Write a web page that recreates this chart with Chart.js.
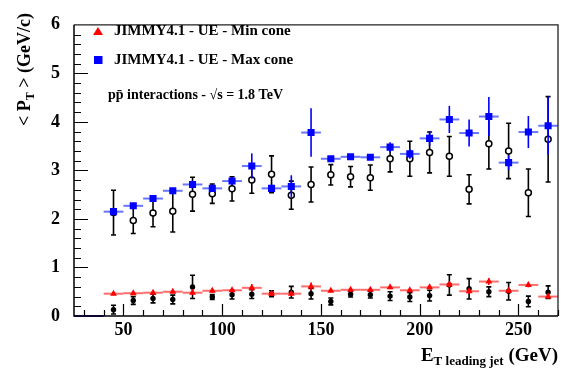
<!DOCTYPE html>
<html>
<head>
<meta charset="utf-8">
<script src="https://cdn.jsdelivr.net/npm/chart.js@4"></script>
<style>
    html, body { margin: 0; padding: 0; background: #fff; }
</style>
</head>
<body>
<canvas id="ptChart" width="566" height="376"></canvas>
<script>
const bins = [45, 55, 65, 75, 85, 95, 105, 115, 125, 135, 145, 155, 165, 175, 185, 195, 205, 215, 225, 235, 245, 255, 265];
const binHalfWidth = 5;

// JIMMY4.1 model, max cone (blue squares)
const maxConeModel = [2.15, 2.27, 2.42, 2.58, 2.71, 2.63, 2.78, 3.09, 2.63, 2.67, 3.78, 3.24, 3.28, 3.27, 3.48, 3.34, 3.66, 4.05, 3.77, 4.11, 3.16, 3.79, 3.92];
const maxConeModelErr = [0.05, 0.05, 0.05, 0.05, 0.08, 0.06, 0.08, 0.26, 0.08, 0.23, 0.5, 0.05, 0.04, 0.04, 0.1, 0.1, 0.15, 0.28, 0.28, 0.4, 0.15, 0.33, 0.6];
// data, max cone (open circles)
const maxConeData = [2.13, 1.97, 2.12, 2.16, 2.51, 2.52, 2.62, 2.80, 2.92, 2.49, 2.71, 2.91, 2.87, 2.85, 3.24, 3.24, 3.37, 3.29, 2.61, 3.55, 3.40, 2.54, 3.64];
const maxConeDataErr = [0.46, 0.27, 0.28, 0.43, 0.35, 0.2, 0.25, 0.27, 0.38, 0.29, 0.36, 0.21, 0.21, 0.26, 0.27, 0.36, 0.42, 0.41, 0.3, 0.52, 0.57, 0.49, 0.88];

// JIMMY4.1 model, min cone (red triangles)
const minConeModel = [0.46, 0.47, 0.48, 0.50, 0.48, 0.52, 0.53, 0.58, 0.46, 0.46, 0.61, 0.52, 0.54, 0.54, 0.59, 0.53, 0.59, 0.65, 0.51, 0.71, 0.52, 0.64, 0.40];
const minConeModelErr = [0.03, 0.03, 0.03, 0.03, 0.04, 0.04, 0.04, 0.08, 0.04, 0.04, 0.08, 0.03, 0.04, 0.04, 0.04, 0.04, 0.04, 0.06, 0.05, 0.07, 0.05, 0.05, 0.04];
// data, min cone (filled circles)
const minConeData = [0.13, 0.32, 0.36, 0.34, 0.60, 0.39, 0.44, 0.45, 0.46, 0.49, 0.46, 0.30, 0.45, 0.44, 0.41, 0.39, 0.42, 0.64, 0.56, 0.50, 0.51, 0.30, 0.49];
const minConeDataErr = [0.09, 0.08, 0.09, 0.09, 0.24, 0.05, 0.09, 0.09, 0.06, 0.12, 0.11, 0.07, 0.06, 0.07, 0.09, 0.09, 0.11, 0.21, 0.21, 0.1, 0.18, 0.11, 0.13];

// empty histogram bins below the first jet bin
const emptyX = [25, 40];
const emptyY = [0, 0];

const xTickValues = [50, 100, 150, 200, 250];
const yTickValues = [0, 1, 2, 3, 4, 5, 6];
const legendLabels = ['JIMMY4.1 - UE - Min cone', 'JIMMY4.1 - UE - Max cone'];
const noteText = 'pp\u0304 interactions - \u221As = 1.8 TeV';

const serif = '"Liberation Serif", "Times New Roman", serif';

function points(ys) {
    return bins.map((x, i) => ({x: x, y: ys[i]}));
}

// error bars drawn just before each dataset's markers
const errorBars = {
    id: 'errorBars',
    beforeDatasetDraw(chart, args) {
        const ds = chart.data.datasets[args.index];
        if (!ds.yErr) return;
        const xs = chart.scales.x, ys = chart.scales.y, ctx = chart.ctx;
        ctx.save();
        ds.data.forEach((p, i) => {
            const px = xs.getPixelForValue(p.x);
            const py = ys.getPixelForValue(p.y);
            if (ds.xErr) {
                ctx.strokeStyle = ds.xErrColor;
                ctx.lineWidth = 2;
                ctx.beginPath();
                ctx.moveTo(xs.getPixelForValue(p.x - ds.xErr), py);
                ctx.lineTo(xs.getPixelForValue(p.x + ds.xErr), py);
                ctx.stroke();
            }
            const top = ys.getPixelForValue(p.y + ds.yErr[i]);
            const bot = ys.getPixelForValue(p.y - ds.yErr[i]);
            ctx.strokeStyle = ds.yErrColor;
            ctx.lineWidth = 1.6;
            ctx.beginPath();
            ctx.moveTo(px, top);
            ctx.lineTo(px, bot);
            if (ds.cap) {
                ctx.moveTo(px - ds.cap, top);
                ctx.lineTo(px + ds.cap, top);
                ctx.moveTo(px - ds.cap, bot);
                ctx.lineTo(px + ds.cap, bot);
            }
            ctx.stroke();
        });
        ctx.restore();
    }
};

// ROOT-like frame, ticks, titles, legend
const frame = {
    id: 'frame',
    afterDraw(chart) {
        const {ctx, chartArea: a, scales: {x, y}} = chart;
        ctx.save();
        ctx.strokeStyle = '#222';
        ctx.lineWidth = 1.3;
        ctx.beginPath();
        ctx.moveTo(a.left, a.top);
        ctx.lineTo(a.right, a.top);
        ctx.lineTo(a.right, a.bottom);
        ctx.stroke();

        ctx.strokeStyle = '#000';
        ctx.lineWidth = 1.5;
        ctx.beginPath();
        ctx.moveTo(a.left, a.top);
        ctx.lineTo(a.left, a.bottom);
        ctx.lineTo(a.right, a.bottom);
        ctx.stroke();

        ctx.lineWidth = 1.2;
        ctx.beginPath();
        for (let v = 30; v <= 270; v += 10) {
            const px = Math.round(x.getPixelForValue(v)) + 0.5;
            const len = v % 50 === 0 ? 12 : 6;
            ctx.moveTo(px, a.bottom);
            ctx.lineTo(px, a.bottom - len);
        }
        for (let k = 1; k < 30; k++) {
            const py = Math.round(y.getPixelForValue(k * 0.2)) + 0.5;
            const len = k % 5 === 0 ? 14 : 7;
            ctx.moveTo(a.left, py);
            ctx.lineTo(a.left + len, py);
        }
        ctx.stroke();

        ctx.fillStyle = '#000';
        ctx.textBaseline = 'alphabetic';
        ctx.textAlign = 'left';

        // y title, rotated
        ctx.save();
        ctx.translate(30, 126);
        ctx.rotate(-Math.PI / 2);
        ctx.font = 'bold 18px ' + serif;
        let cx = 0;
        ctx.fillText('< P', cx, 0);
        cx += ctx.measureText('< P').width;
        ctx.font = 'bold 12px ' + serif;
        ctx.fillText('T', cx, 4);
        cx += ctx.measureText('T').width;
        ctx.font = 'bold 18px ' + serif;
        ctx.fillText(' > (GeV/c)', cx, 0);
        ctx.restore();

        // x title, right aligned
        ctx.font = 'bold 19px ' + serif;
        const wE = ctx.measureText('E').width;
        const wU = ctx.measureText(' (GeV)').width;
        ctx.font = 'bold 13px ' + serif;
        const wS = ctx.measureText('T leading jet').width;
        let tx = a.right - (wE + wS + wU);
        ctx.font = 'bold 19px ' + serif;
        ctx.fillText('E', tx, 361);
        tx += wE;
        ctx.font = 'bold 13px ' + serif;
        ctx.fillText('T leading jet', tx, 365);
        tx += wS;
        ctx.font = 'bold 19px ' + serif;
        ctx.fillText(' (GeV)', tx, 361);

        // legend
        ctx.fillStyle = '#ff0000';
        ctx.beginPath();
        ctx.moveTo(98, 27);
        ctx.lineTo(103, 35);
        ctx.lineTo(93, 35);
        ctx.closePath();
        ctx.fill();
        ctx.fillStyle = '#0000ff';
        ctx.fillRect(94, 56, 8.5, 8);

        ctx.fillStyle = '#000';
        ctx.font = 'bold 15px ' + serif;
        ctx.fillText(legendLabels[0], 114, 35);
        ctx.fillText(legendLabels[1], 114, 64);
        ctx.font = 'bold 14px ' + serif;
        ctx.fillText(noteText, 108, 99);
        ctx.restore();
    }
};

const tickFont = {family: serif, weight: 'bold', size: 18};

new Chart(document.getElementById('ptChart'), {
    type: 'scatter',
    data: {
        datasets: [
            {
                label: legendLabels[0],
                data: points(minConeModel),
                yErr: minConeModelErr,
                xErr: binHalfWidth,
                xErrColor: 'rgba(255, 60, 60, 0.75)',
                yErrColor: '#ff0000',
                pointStyle: 'triangle',
                radius: 4,
                backgroundColor: '#ff0000',
                borderColor: '#ff0000',
                borderWidth: 0
            },
            {
                label: legendLabels[1],
                data: points(maxConeModel),
                yErr: maxConeModelErr,
                xErr: binHalfWidth,
                xErrColor: 'rgba(40, 60, 255, 0.7)',
                yErrColor: '#0000ff',
                pointStyle: 'rect',
                radius: 5,
                backgroundColor: '#0000ff',
                borderColor: '#0000ff',
                borderWidth: 0
            },
            {
                label: 'data min cone',
                data: points(minConeData),
                yErr: minConeDataErr,
                yErrColor: '#000',
                cap: 2.5,
                pointStyle: 'circle',
                radius: 2.7,
                backgroundColor: '#000',
                borderColor: '#000',
                borderWidth: 0
            },
            {
                label: 'data max cone',
                data: points(maxConeData),
                yErr: maxConeDataErr,
                yErrColor: '#000',
                cap: 2.5,
                pointStyle: 'circle',
                radius: 3,
                backgroundColor: '#fff',
                borderColor: '#000',
                borderWidth: 1.5
            },
            {
                label: 'empty bins',
                data: emptyX.map((x, i) => ({x: x, y: emptyY[i]})),
                showLine: true,
                borderColor: '#3a10c8',
                borderWidth: 2,
                pointRadius: 0,
                clip: 4
            }
        ]
    },
    options: {
        responsive: false,
        animation: false,
        events: [],
        layout: {padding: {top: 10, right: 8, left: 0, bottom: 0}},
        plugins: {
            legend: {display: false},
            tooltip: {enabled: false}
        },
        scales: {
            x: {
                type: 'linear',
                min: 25,
                max: 270,
                afterBuildTicks: s => { s.ticks = xTickValues.map(v => ({value: v})); },
                afterFit: s => { s.height = 60; },
                grid: {display: false, drawTicks: false},
                border: {display: false},
                ticks: {font: tickFont, color: '#000', padding: 4, maxRotation: 0}
            },
            y: {
                type: 'linear',
                min: 0,
                max: 6,
                afterBuildTicks: s => { s.ticks = yTickValues.map(v => ({value: v})); },
                afterFit: s => { s.width = 74; },
                grid: {display: false, drawTicks: false},
                border: {display: false},
                ticks: {font: tickFont, color: '#000', padding: 14}
            }
        }
    },
    plugins: [errorBars, frame]
});
</script>
</body>
</html>
